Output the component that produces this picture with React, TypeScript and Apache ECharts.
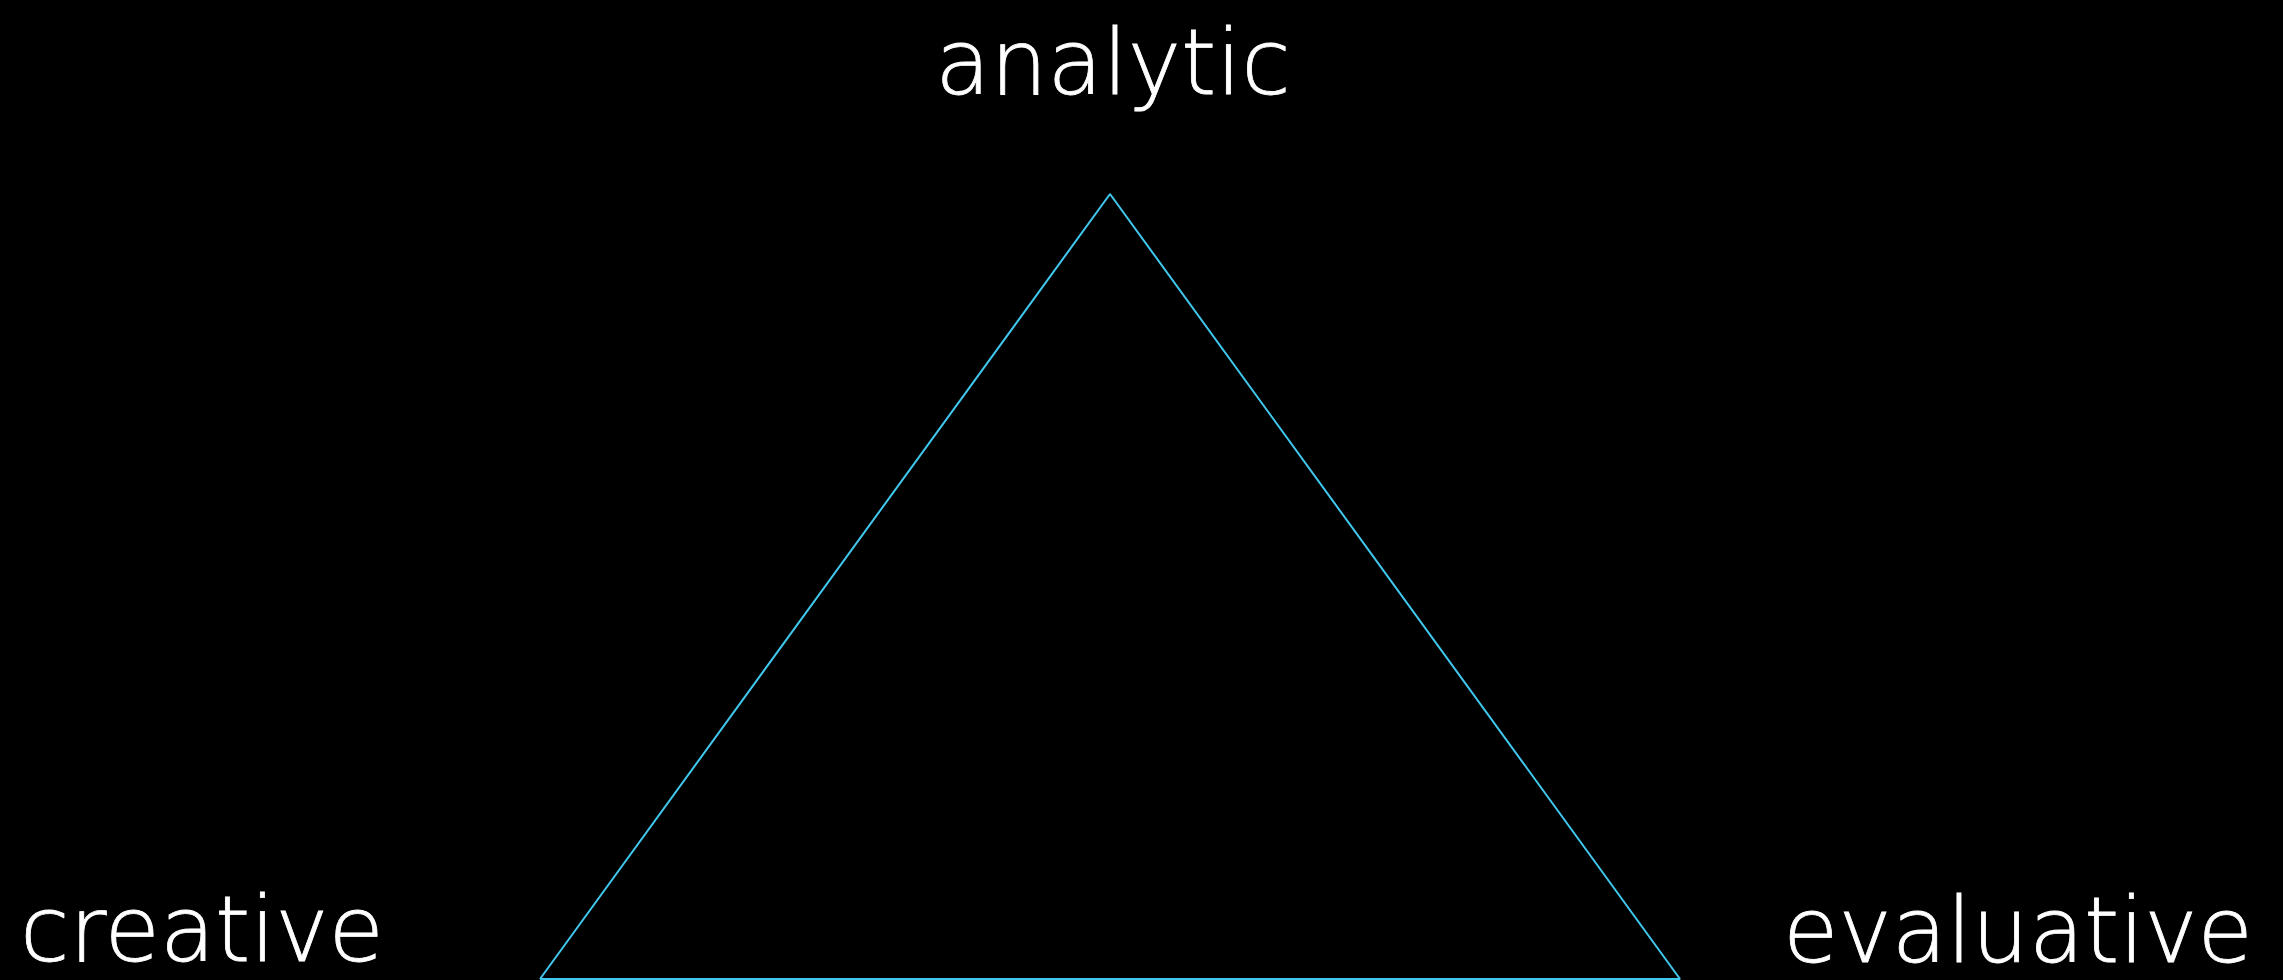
import React, { useEffect, useRef } from "react";
import * as echarts from "echarts";

const vertexNames = ["creative", "analytic", "evaluative"];
const vertexX = [0, 0.5, 1];
const vertexY = [0, 1, 0];

export default function App() {
  const ref = useRef<HTMLDivElement>(null);
  useEffect(() => {
    document.body.style.margin = "0";
    document.body.style.background = "#000";
    const chart = echarts.init(ref.current!, null, { renderer: "svg" });
    const pts = vertexX.map((x, i) => [x, vertexY[i]]);
    const closed = [...pts, pts[0]];
    const font = "'DejaVu Sans'";
    const fs = 90;
    const textStyle = (text: string, align: string) => ({
      text,
      fill: "#ffffff",
      stroke: "#ffffff",
      lineWidth: 0.8,
      font: `300 ${fs}px ${font}`,
      align,
      verticalAlign: "middle",
    });
    chart.setOption({
      animation: false,
      backgroundColor: "#000000",
      grid: { left: 540, right: 603, top: 194, bottom: 1 },
      xAxis: { type: "value", min: 0, max: 1, show: false },
      yAxis: { type: "value", min: 0, max: 1, show: false },
      series: [
        {
          type: "line",
          data: closed,
          showSymbol: false,
          lineStyle: { color: "#41c8ef", width: 2 },
          silent: true,
        },
      ],
      graphic: [
        { type: "text", x: 1113, y: 62, style: textStyle(vertexNames[1], "center") },
        { type: "text", x: 20, y: 929, style: textStyle(vertexNames[0], "left") },
        { type: "text", x: 2253, y: 930, style: textStyle(vertexNames[2], "right") },
      ],
    });
    return () => chart.dispose();
  }, []);
  return <div ref={ref} style={{ width: 2283, height: 980 }} />;
}
